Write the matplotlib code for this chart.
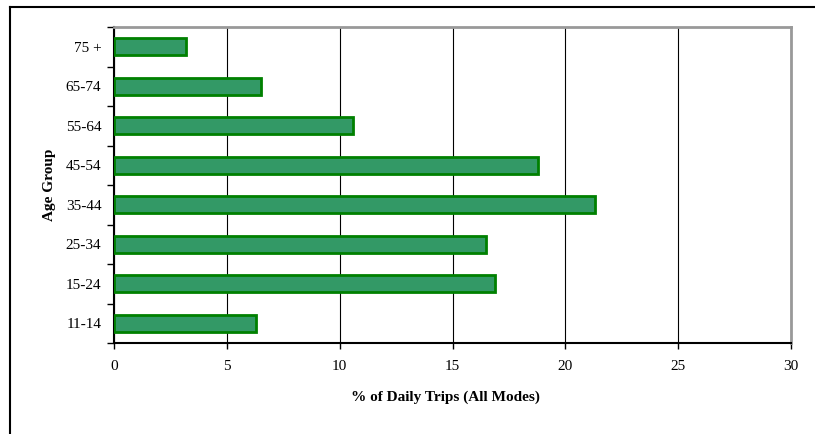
import matplotlib
matplotlib.use("Agg")
import matplotlib.pyplot as plt
from matplotlib.lines import Line2D

categories = ["11-14", "15-24", "25-34", "35-44", "45-54", "55-64", "65-74", "75 +"]
values = [6.3, 16.9, 16.5, 21.3, 18.8, 10.6, 6.5, 3.2]
xticks = [0, 5, 10, 15, 20, 25, 30]

plt.rcParams['font.family'] = ['Liberation Serif', 'DejaVu Serif']

W, H = 815, 434
fig = plt.figure(figsize=(W/100, H/100), dpi=100)
ax = fig.add_axes([114/W, 1 - 343/H, (791-114)/W, (343-27)/H])

y = range(len(categories))
ax.barh(list(y), values, height=0.43, color="#339966", edgecolor="#008000", linewidth=2, zorder=3)

ax.set_xlim(0, 30)
ax.set_ylim(-0.5, len(categories) - 0.5)
ax.set_xticks(xticks)
ax.set_xticklabels([str(t) for t in xticks], fontsize=11)
ax.set_yticks(list(y))
ax.set_yticklabels(categories, fontsize=11)
ax.tick_params(axis='y', length=0, pad=9)
ax.set_yticks([i - 0.5 for i in range(len(categories) + 1)], minor=True)
ax.tick_params(axis='y', which='minor', length=5, width=1, direction='out', color='black')
ax.tick_params(axis='x', length=4, width=1, direction='out', pad=8)

ax.xaxis.grid(True, color='black', linewidth=0.8, zorder=0)
ax.set_axisbelow(True)
for s in ['top', 'right']:
    ax.spines[s].set_color('#999999')
    ax.spines[s].set_linewidth(2)
for s in ['left', 'bottom']:
    ax.spines[s].set_color('black')
    ax.spines[s].set_linewidth(1.5)

fig.text(445/W, 1 - 397/H, "% of Daily Trips (All Modes)", ha='center', va='center',
         fontsize=11, fontweight='bold')
fig.text(50/W, 1 - 185/H, "Age Group", ha='center', va='center', rotation=90,
         fontsize=11, fontweight='bold')

# figure border lines (top and left)
fig.add_artist(Line2D([10/W, 1], [1 - 7/H, 1 - 7/H], color='black', linewidth=1.5, transform=fig.transFigure))
fig.add_artist(Line2D([10/W, 10/W], [0, 1 - 7/H], color='black', linewidth=1.5, transform=fig.transFigure))

fig.savefig("out.png", dpi=100)
